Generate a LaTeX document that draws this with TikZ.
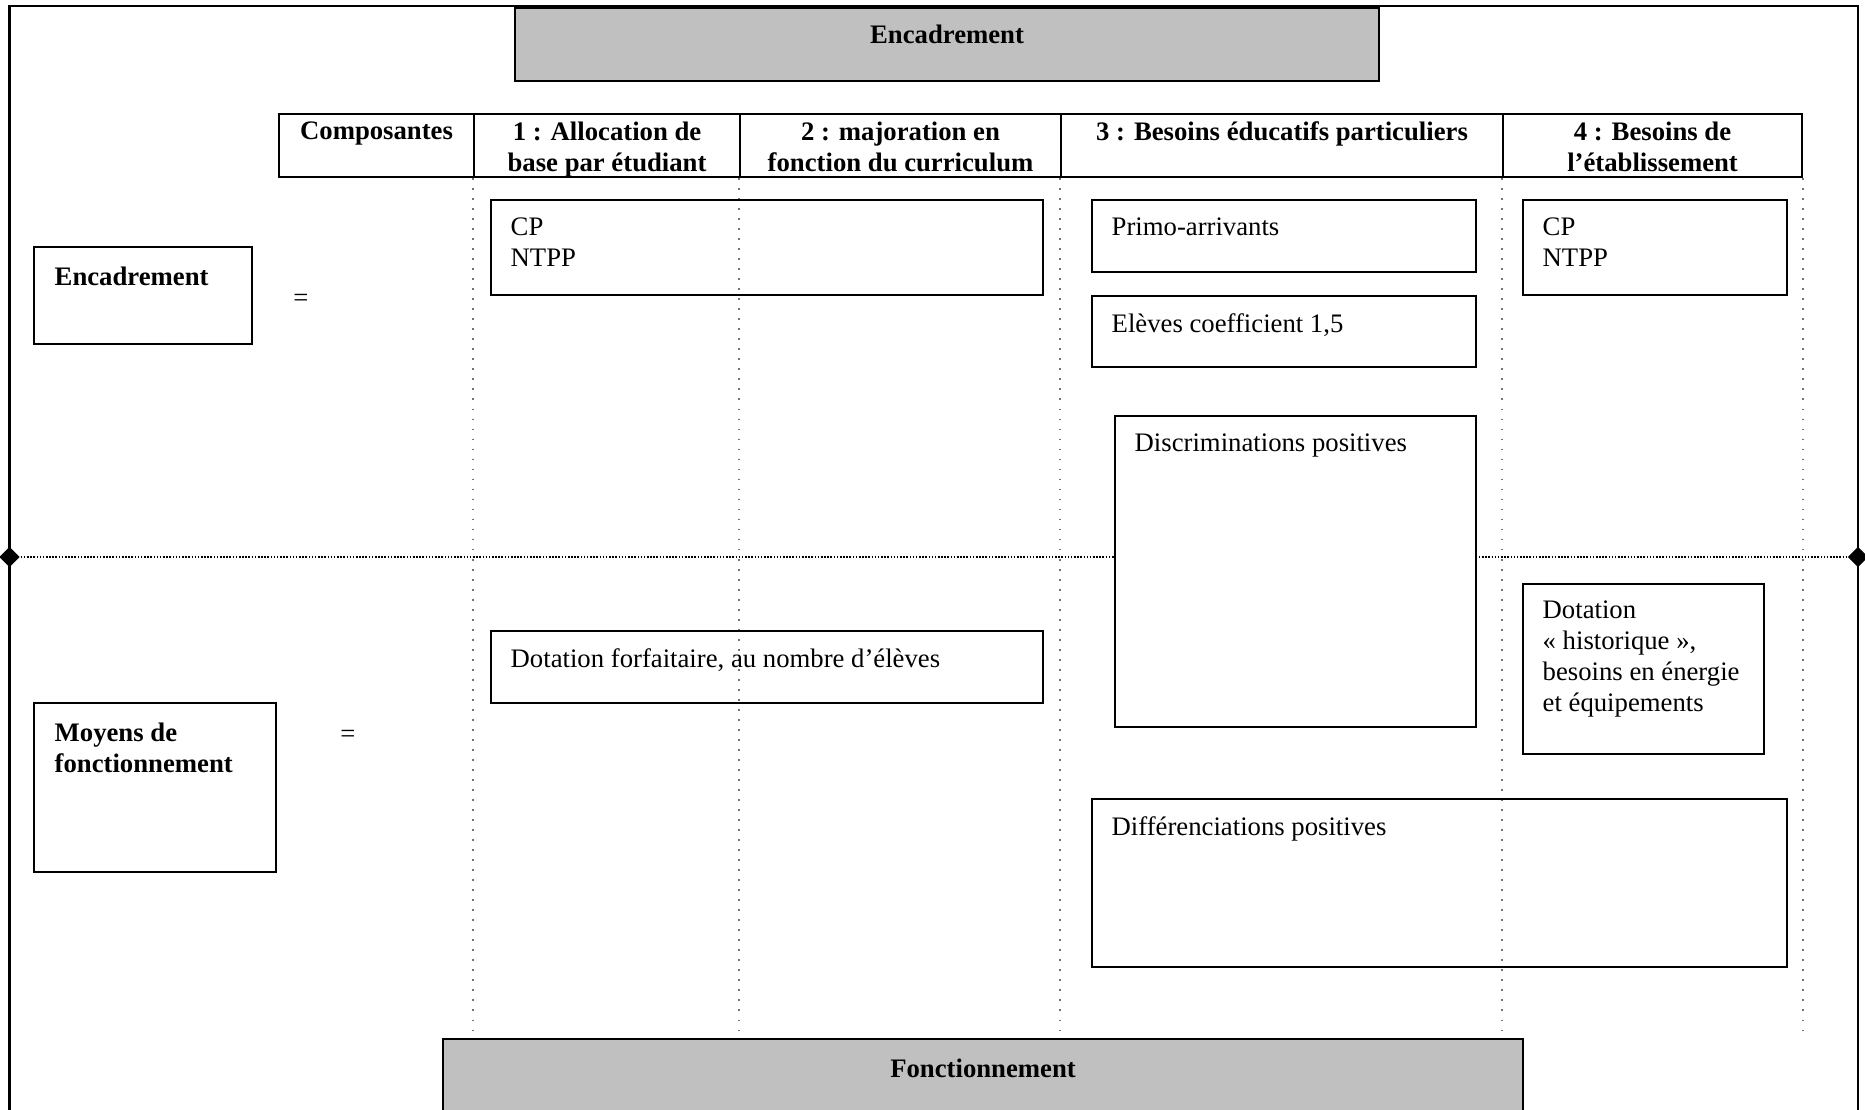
\documentclass[tikz,border=0pt]{standalone}
\usepackage{fontspec}
\setmainfont{Liberation Serif}
\usepackage{tikz}
\usetikzlibrary{shapes.geometric, positioning}
\usepackage{xcolor}
\definecolor{boxgray}{RGB}{192,192,192}
\tikzset{
    cell/.style={draw=black, line width=0.6pt, anchor=north west, inner sep=0pt},
    grise/.style={cell, fill=boxgray},
    texte/.style={anchor=north west, align=left, inner sep=0pt, font=\fontsize{7.6}{8.8}\selectfont},
    titre/.style={texte, font=\fontsize{7.6}{8.8}\selectfont\bfseries},
    colonne/.style={black!55, line width=0.6pt, dash pattern=on 0.5pt off 2.35pt},
    separation/.style={black, line width=0.6pt, dash pattern=on 0.45pt off 0.45pt},
    losange/.style={diamond, fill=black, inner sep=0pt, minimum size=2.1mm}
}

\begin{document}
\begin{tikzpicture}[x=0.1mm, y=-0.1mm]
    \useasboundingbox (0,0) rectangle (1865,1109);
    % cadre
    \draw[line width=0.6pt] (9.5,1130) -- (9.5,6) -- (1858,6) -- (1858,1130);

    % titres gris
    \node[grise, minimum width=86.4mm, minimum height=7.3mm] (encadrement) at (514,7) {};
    \node[titre, below=1.7mm of encadrement.north] (tEncadrement) {Encadrement};
    \node[grise, minimum width=108mm, minimum height=9mm] (fonctionnement) at (442,1038) {};
    \node[titre, below=2mm of fonctionnement.north] (tFonctionnement) {Fonctionnement};

    % en-tete du tableau
    \node[cell, minimum width=19.5mm, minimum height=6.3mm] (hComp) at (278,113) {};
    \node[cell, minimum width=26.6mm, minimum height=6.3mm] (hAlloc) at (473,113) {};
    \node[cell, minimum width=32.1mm, minimum height=6.3mm] (hMaj) at (739,113) {};
    \node[cell, minimum width=44.2mm, minimum height=6.3mm] (hBesoins) at (1060,113) {};
    \node[cell, minimum width=29.9mm, minimum height=6.3mm] (hEtab) at (1502,113) {};
    \node[titre, align=center, below=0.8mm of hComp.north] (tComp) {Composantes};
    \node[titre, align=center, below=0.8mm of hAlloc.north] (tAlloc) {1 : Allocation de\\base par étudiant};
    \node[titre, align=center, below=0.8mm of hMaj.north] (tMaj) {2 : majoration en\\fonction du curriculum};
    \node[titre, align=center, below=0.8mm of hBesoins.north] (tBesoins) {3 : Besoins éducatifs particuliers};
    \node[titre, align=center, below=0.8mm of hEtab.north] (tEtab) {4 : Besoins de\\l’établissement};

    % colonnes en pointilles
    \foreach \h in {hAlloc, hMaj, hBesoins, hEtab}
        \draw[colonne] (\h.south west) -- ++(0,853);
    \draw[colonne] (hEtab.south east) -- ++(0,853);

    % separation encadrement / fonctionnement
    \node[losange] (gauche) at (9.5,557) {};
    \node[losange] (droite) at (1858,557) {};
    \draw[separation] (gauche) -- (droite);

    % lignes
    \node[cell, minimum width=21.8mm, minimum height=9.7mm] (lEnc) at (33,246) {};
    \node[titre, below right=2mm and 2.1mm of lEnc.north west] (tlEnc) {Encadrement};
    \node[texte, anchor=center] (egal1) at (301,300) {=};
    \node[cell, minimum width=24.2mm, minimum height=16.9mm] (lMoy) at (33,702) {};
    \node[titre, below right=2mm and 2.1mm of lMoy.north west] (tlMoy) {Moyens de\\fonctionnement};
    \node[texte, anchor=center] (egal2) at (348,736) {=};

    % encadrement
    \node[cell, minimum width=55.2mm, minimum height=9.5mm] (cp1) at (490,199) {};
    \node[texte, below right=1.8mm and 2mm of cp1.north west] (tcp1) {CP\\NTPP};
    \node[cell, minimum width=38.4mm, minimum height=7.2mm] (primo) at (1091,199) {};
    \node[texte, below right=1.8mm and 2mm of primo.north west] (tprimo) {Primo-arrivants};
    \node[cell, minimum width=38.4mm, minimum height=7.1mm] (eleves) at (1091,295) {};
    \node[texte, below right=1.8mm and 2mm of eleves.north west] (televes) {Elèves coefficient 1,5};
    \node[cell, minimum width=26.4mm, minimum height=9.5mm] (cp4) at (1522,199) {};
    \node[texte, below right=1.8mm and 2mm of cp4.north west] (tcp4) {CP\\NTPP};
    \node[cell, fill=white, minimum width=36.1mm, minimum height=31.1mm] (discr) at (1114,415) {};
    \node[texte, below right=1.8mm and 2mm of discr.north west] (tdiscr) {Discriminations positives};

    % fonctionnement
    \node[cell, minimum width=55.2mm, minimum height=7.2mm] (forfait) at (490,630) {};
    \node[texte, below right=1.8mm and 2mm of forfait.north west] (tforfait) {Dotation forfaitaire, au nombre d’élèves};
    \node[cell, minimum width=24.1mm, minimum height=17mm] (histo) at (1522,583) {};
    \node[texte, below right=1.7mm and 2mm of histo.north west] (thisto) {Dotation\\« historique »,\\besoins en énergie\\et équipements};
    \node[cell, minimum width=69.5mm, minimum height=16.8mm] (diff) at (1091,798) {};
    \node[texte, below right=1.8mm and 2mm of diff.north west] (tdiff) {Différenciations positives};
\end{tikzpicture}
\end{document}
